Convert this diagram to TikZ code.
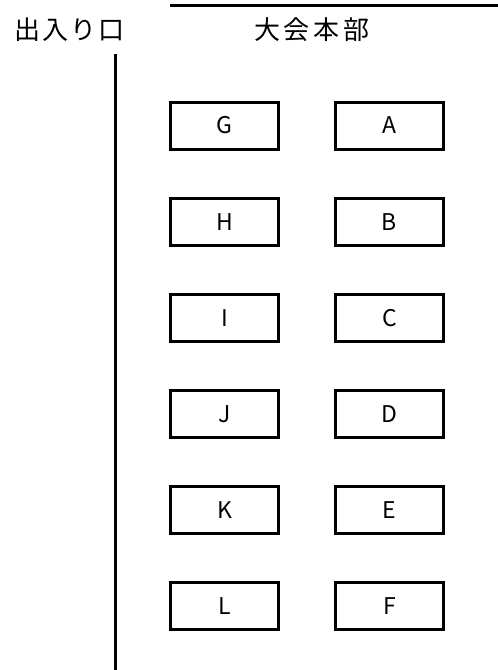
\documentclass[tikz,border=0pt]{standalone}
\usepackage{fontspec}
\newfontfamily\jp{Noto Sans CJK JP}
\begin{document}
\begin{tikzpicture}[x=1pt,y=-1pt,
  seat/.style={draw,line width=3pt,minimum width=108pt,minimum height=47pt,inner sep=0pt,font=\jp\fontsize{23}{23}\selectfont},
  title/.style={font=\jp\fontsize{26}{26}\selectfont,inner sep=0pt},
  wall/.style={line width=3pt}]
\useasboundingbox (0,0) rectangle (498,670);
\node[title] (entrance) at (70,30) {出\hspace{2pt}入\hspace{2pt}り\hspace{2pt}口};
\node[title] (hq) at (312,30) {大\hspace{4pt}会\hspace{4pt}本\hspace{4pt}部};
\coordinate (tl) at (170,5);
\coordinate (tr) at (498,5);
\draw[wall] (tl) -- (tr);
\coordinate (vt) at (115,54);
\coordinate (vb) at (115,670);
\draw[wall] (vt) -- (vb);
\foreach \l/\r [count=\i from 0] in {G/A,H/B,I/C,J/D,K/E,L/F}{
  \node[seat] (\l) at (224.5,125.5+96.1*\i) {\l};
  \node[seat] (\r) at (389.5,125.5+96.1*\i) {\r};
}
\end{tikzpicture}
\end{document}
